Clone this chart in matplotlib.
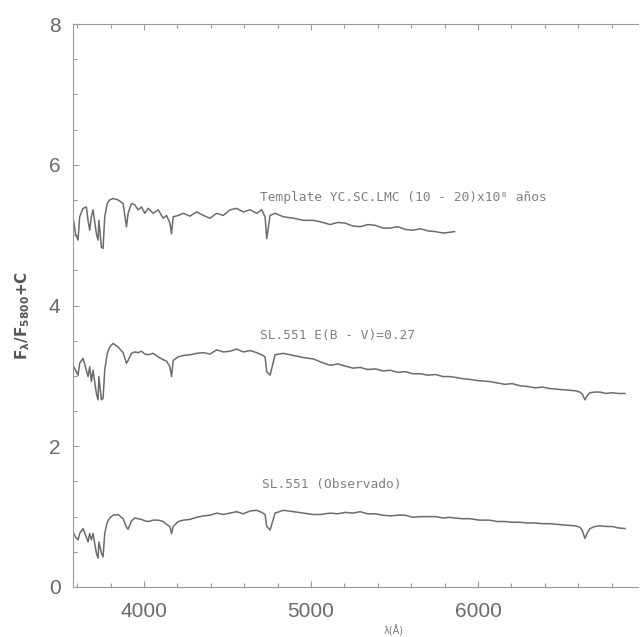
import numpy as np
import matplotlib
matplotlib.use("Agg")
import matplotlib.pyplot as plt
from matplotlib.ticker import MultipleLocator

# spectra (wavelength in A, flux F/F5800 + C)
wave_blue = [3580, 3590, 3605, 3615, 3635, 3655, 3665, 3675, 3685, 3695,
             3715, 3725, 3730, 3745, 3755, 3765, 3780, 3795, 3815, 3845,
             3875, 3895, 3905, 3925, 3945, 3965, 3985, 4005, 4025, 4055,
             4085, 4115, 4135, 4155, 4165, 4175, 4205, 4235, 4275, 4315,
             4355, 4395, 4435, 4475, 4515, 4555, 4595, 4635, 4675, 4705,
             4725, 4735, 4755, 4785, 4835, 4895, 4955, 5015, 5055]
wave_mid = [5115, 5160, 5205, 5250, 5295, 5340, 5385, 5430, 5475, 5520,
            5565, 5610, 5655, 5700, 5745, 5790, 5830, 5860]
wave_red = [5910, 5950, 6010, 6070, 6115, 6160, 6205, 6250, 6295, 6340,
            6385, 6430, 6475, 6520, 6580, 6610, 6625, 6640, 6655, 6670,
            6700, 6730, 6765, 6800, 6840, 6880]

tmpl_blue = [5.19, 5.02, 4.93, 5.26, 5.38, 5.40, 5.21, 5.07, 5.26, 5.36,
             5.02, 4.93, 5.21, 4.83, 4.81, 5.26, 5.45, 5.50, 5.52, 5.50,
             5.45, 5.12, 5.31, 5.45, 5.43, 5.36, 5.40, 5.31, 5.38, 5.31,
             5.36, 5.24, 5.28, 5.17, 5.02, 5.26, 5.28, 5.31, 5.27, 5.33,
             5.28, 5.24, 5.31, 5.28, 5.36, 5.38, 5.33, 5.36, 5.31, 5.36,
             5.26, 4.95, 5.28, 5.31, 5.26, 5.24, 5.21, 5.21, 5.19]
tmpl_mid = [5.15, 5.18, 5.17, 5.13, 5.12, 5.15, 5.14, 5.10, 5.10, 5.12,
            5.08, 5.07, 5.09, 5.06, 5.05, 5.03, 5.04, 5.05]

dered_blue = [3.13, 3.08, 3.01, 3.18, 3.25, 3.08, 2.99, 3.13, 2.92, 3.08,
              2.75, 2.66, 2.99, 2.66, 2.68, 3.08, 3.32, 3.41, 3.46, 3.41,
              3.33, 3.18, 3.22, 3.32, 3.34, 3.33, 3.35, 3.31, 3.30, 3.32,
              3.27, 3.23, 3.21, 3.13, 2.99, 3.22, 3.27, 3.29, 3.30, 3.32,
              3.33, 3.31, 3.37, 3.34, 3.35, 3.38, 3.34, 3.36, 3.33, 3.30,
              3.27, 3.06, 3.01, 3.30, 3.32, 3.29, 3.26, 3.24, 3.20]
dered_mid = [3.15, 3.17, 3.14, 3.11, 3.12, 3.09, 3.10, 3.07, 3.08, 3.05,
             3.06, 3.03, 3.03, 3.01, 3.02, 2.99, 2.99, 2.98]
dered_red = [2.96, 2.95, 2.93, 2.92, 2.90, 2.88, 2.89, 2.86, 2.85, 2.83,
             2.84, 2.82, 2.81, 2.80, 2.79, 2.77, 2.74, 2.66, 2.72, 2.76,
             2.77, 2.77, 2.75, 2.76, 2.75, 2.75]

obs_blue = [0.76, 0.71, 0.67, 0.76, 0.83, 0.71, 0.64, 0.76, 0.67, 0.76,
            0.48, 0.41, 0.64, 0.48, 0.43, 0.76, 0.92, 0.98, 1.02, 1.03,
            0.97, 0.85, 0.82, 0.94, 0.98, 0.97, 0.96, 0.94, 0.93, 0.95,
            0.95, 0.93, 0.89, 0.86, 0.76, 0.86, 0.93, 0.95, 0.96, 0.99,
            1.01, 1.02, 1.05, 1.03, 1.05, 1.07, 1.04, 1.08, 1.09, 1.06,
            1.03, 0.86, 0.81, 1.05, 1.09, 1.07, 1.05, 1.03, 1.03]
obs_mid = [1.05, 1.04, 1.06, 1.05, 1.07, 1.04, 1.04, 1.02, 1.01, 1.02,
           1.02, 0.99, 1.00, 1.00, 1.00, 0.98, 0.99, 0.98]
obs_red = [0.97, 0.97, 0.95, 0.95, 0.93, 0.93, 0.92, 0.92, 0.91, 0.91,
           0.90, 0.90, 0.89, 0.88, 0.87, 0.85, 0.80, 0.69, 0.77, 0.83,
           0.86, 0.87, 0.86, 0.86, 0.84, 0.83]

labels = ["Template YC.SC.LMC (10 - 20)x10\u2078 a\u00f1os",
          "SL.551 E(B - V)=0.27",
          "SL.551 (Observado)"]
label_pos = [(4695, 5.54), (4695, 3.58), (4707, 1.45)]

LINE = "#6c6c6c"; TXT = "#6a6a6a"; AX = "#9a9a9a"

fig = plt.figure(figsize=(6.42, 6.37), dpi=100)
ax = fig.add_axes([73/642, 1-587/637, 565/642, 563/637])

ax.plot(wave_blue + wave_mid, tmpl_blue + tmpl_mid, color=LINE, lw=1.1)
ax.plot(wave_blue + wave_mid + wave_red, dered_blue + dered_mid + dered_red, color=LINE, lw=1.1)
ax.plot(wave_blue + wave_mid + wave_red, obs_blue + obs_mid + obs_red, color=LINE, lw=1.1)

for lab, (x, y) in zip(labels, label_pos):
    ax.text(x, y, lab, fontsize=9.3, family="DejaVu Sans Mono", color="#808080",
            ha="left", va="center")

ax.set_xlim(3575, 6958); ax.set_ylim(0, 8)
ax.xaxis.set_major_locator(MultipleLocator(1000)); ax.xaxis.set_minor_locator(MultipleLocator(200))
ax.yaxis.set_major_locator(MultipleLocator(2)); ax.yaxis.set_minor_locator(MultipleLocator(0.5))
ax.tick_params(which="both", direction="in", color=AX, width=0.8, top=True, right=False)
ax.tick_params(which="major", length=4)
ax.tick_params(which="minor", length=3)
ax.tick_params(axis="x", pad=11, labelsize=15, labelcolor=TXT)
ax.tick_params(axis="y", pad=9, labelsize=15, labelcolor=TXT)
for t in ax.get_xticklabels() + ax.get_yticklabels():
    t.set_family("Liberation Sans")
for s in ["left", "bottom", "top"]:
    ax.spines[s].set_color(AX); ax.spines[s].set_linewidth(0.8)
ax.spines["right"].set_visible(False)

fig.text(23/642, 1-315/637, r"$\mathbf{F_{\lambda}/F_{5800}}$+C", rotation=90,
         fontsize=11, fontweight="bold", color="#555555", ha="center", va="center")
fig.text(394/642, 1-631/637, "\u03bb(\u00c5)", fontsize=7, color="#777777",
         ha="center", va="center")

fig.savefig("out.png", dpi=100)
